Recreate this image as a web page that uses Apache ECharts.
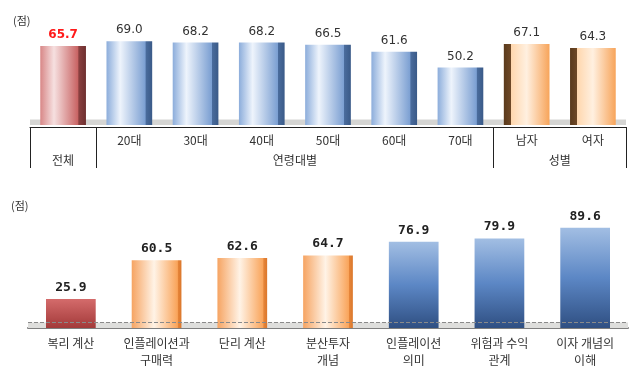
<!DOCTYPE html>
<html>
<head>
<meta charset="utf-8">
<script src="https://cdn.jsdelivr.net/npm/echarts@6/dist/echarts.min.js"></script>
<style>
  html, body { margin: 0; padding: 0; background: #fff; }
  #chart { width: 639px; height: 376px; }
</style>
</head>
<body>
<div id="chart"></div>
<script>
// 위: 전체 / 연령대별 / 성별
var topCats = ['전체', '20대', '30대', '40대', '50대', '60대', '70대', '남자', '여자'];
var topValues = [65.7, 69.0, 68.2, 68.2, 66.5, 61.6, 50.2, 67.1, 64.3];
var topKinds = ['red', 'blue', 'blue', 'blue', 'blue', 'blue', 'blue', 'orange', 'orange'];
var topGroupNames = ['전체', '연령대별', '성별'];
var topGroupSizes = [1, 6, 2];

// 아래: 문항별
var bottomCats = ['복리 계산', '인플레이션과\n구매력', '단리 계산', '분산투자\n개념', '인플레이션\n의미', '위험과 수익\n관계', '이자 개념의\n이해'];
var bottomValues = [25.9, 60.5, 62.6, 64.7, 76.9, 79.9, 89.6];
var bottomKinds = ['red', 'orange', 'orange', 'orange', 'blue', 'blue', 'blue'];

function hgrad(stops) {
    return { type: 'linear', x: 0, y: 0, x2: 1, y2: 0,
        colorStops: stops.map(function (s) { return { offset: s[0], color: s[1] }; }) };
}
function vgrad(stops) {
    return { type: 'linear', x: 0, y: 0, x2: 0, y2: 1,
        colorStops: stops.map(function (s) { return { offset: s[0], color: s[1] }; }) };
}

var topStyle = {
    blue: hgrad([[0, '#8caddb'], [0.3, '#eef4fc'], [0.85, '#7b9fd2'], [0.86, '#4a6c9d'], [1, '#3a5a88']]),
    red: hgrad([[0, '#d88787'], [0.3, '#f6e0e0'], [0.83, '#c86262'], [0.84, '#8a4040'], [1, '#6e3030']]),
    orange: hgrad([[0, '#5a3a1c'], [0.15, '#6e4826'], [0.16, '#ffd7ae'], [0.5, '#fff0e0'], [1, '#f7a45a']])
};
var bottomStyle = {
    blue: vgrad([[0, '#a2bee3'], [0.5, '#5c87c5'], [1, '#2f4f82']]),
    red: vgrad([[0, '#d46b6b'], [1, '#a33a3a']]),
    orange: hgrad([[0, '#f6a462'], [0.45, '#fff3e6'], [0.92, '#f9a45a'], [0.93, '#e5853a'], [1, '#db772b']])
};

// 그룹 경계와 중심
var groupStarts = [], groupCenters = [], groupOf = [];
(function () {
    var pos = 0;
    for (var g = 0; g < topGroupSizes.length; g++) {
        groupStarts.push(pos);
        groupCenters.push(pos + topGroupSizes[g] / 2);
        for (var k = 0; k < topGroupSizes[g]; k++) groupOf.push(g);
        pos += topGroupSizes[g];
    }
})();

var topData = topValues.map(function (v, i) {
    var item = { value: v, itemStyle: { color: topStyle[topKinds[i]] } };
    if (i === 0) {
        item.label = { color: '#ff1a1a', fontWeight: 'bold' };
    }
    return item;
});
var bottomData = bottomValues.map(function (v, i) {
    return { value: v, itemStyle: { color: bottomStyle[bottomKinds[i]] } };
});

var chart = echarts.init(document.getElementById('chart'));

var option = {
    animation: false,
    backgroundColor: '#fff',
    title: [
        { text: '(점)', left: 8, top: 10, textStyle: { fontSize: 11, fontWeight: 'normal', color: '#333', fontFamily: 'Noto Sans CJK KR' } },
        { text: '(점)', left: 6, top: 195, textStyle: { fontSize: 11, fontWeight: 'normal', color: '#333', fontFamily: 'Noto Sans CJK KR' } }
    ],
    grid: [
        { left: 30, right: 13, top: 26, bottom: 251 },
        { left: 28, right: 11, top: 216, bottom: 48 }
    ],
    xAxis: [
        {
            type: 'category', gridIndex: 0, data: topCats, offset: 2,
            axisLine: { lineStyle: { color: '#222', width: 1 } },
            axisTick: {
                show: true, length: 41,
                interval: function (idx) { return groupStarts.indexOf(idx) >= 0; },
                lineStyle: { color: '#222' }
            },
            axisLabel: {
                interval: 0, margin: 7, fontSize: 12, color: '#333', fontFamily: 'Noto Sans CJK KR',
                formatter: function (val, idx) { return topGroupSizes[groupOf[idx]] === 1 ? '' : val; }
            }
        },
        {
            type: 'value', gridIndex: 0, position: 'bottom', offset: 22,
            min: 0, max: topCats.length,
            axisLine: { show: false }, axisTick: { show: false }, splitLine: { show: false },
            axisLabel: {
                customValues: groupCenters, margin: 7, fontSize: 12, color: '#333', fontFamily: 'Noto Sans CJK KR',
                formatter: function (v) {
                    var i = groupCenters.indexOf(v);
                    return i >= 0 ? topGroupNames[i] : '';
                }
            }
        },
        {
            type: 'category', gridIndex: 1, data: bottomCats,
            axisLine: { lineStyle: { color: '#7f7f7f', width: 2 } },
            axisTick: { show: false },
            axisLabel: { interval: 0, margin: 7, fontSize: 12, lineHeight: 17, color: '#333', fontFamily: 'Noto Sans CJK KR' }
        }
    ],
    yAxis: [
        { type: 'value', gridIndex: 0, min: 9, max: 80, show: false, splitLine: { show: false } },
        { type: 'value', gridIndex: 1, min: 0, max: 100, show: false, splitLine: { show: false } }
    ],
    series: [
        {
            type: 'line', xAxisIndex: 0, yAxisIndex: 0, data: [], z: 1, silent: true,
            markArea: { silent: true, itemStyle: { color: '#d5d5d3' }, data: [[{ yAxis: 9 }, { yAxis: 13 }]] }
        },
        {
            type: 'bar', xAxisIndex: 0, yAxisIndex: 0, data: topData, barWidth: '69%', z: 3,
            label: {
                show: true, position: 'top', distance: 5, fontSize: 12, color: '#333',
                fontFamily: 'DejaVu Sans',
                formatter: function (p) { return p.value.toFixed(1); }
            }
        },
        {
            type: 'line', xAxisIndex: 2, yAxisIndex: 1, data: [], z: 1, silent: true,
            markArea: { silent: true, itemStyle: { color: '#dededc' }, data: [[{ yAxis: 0 }, { yAxis: 5 }]] },
            markLine: {
                silent: true, symbol: 'none', label: { show: false },
                lineStyle: { type: 'dashed', color: '#8a8a8a', width: 1 },
                data: [{ yAxis: 5 }]
            }
        },
        {
            type: 'bar', xAxisIndex: 2, yAxisIndex: 1, data: bottomData, barWidth: '58%', z: 3,
            label: {
                show: true, position: 'top', distance: 5, fontSize: 13, fontWeight: 'bold', color: '#222',
                fontFamily: 'DejaVu Sans Mono',
                formatter: function (p) { return p.value.toFixed(1); }
            }
        }
    ]
};

chart.setOption(option);
</script>
</body>
</html>
